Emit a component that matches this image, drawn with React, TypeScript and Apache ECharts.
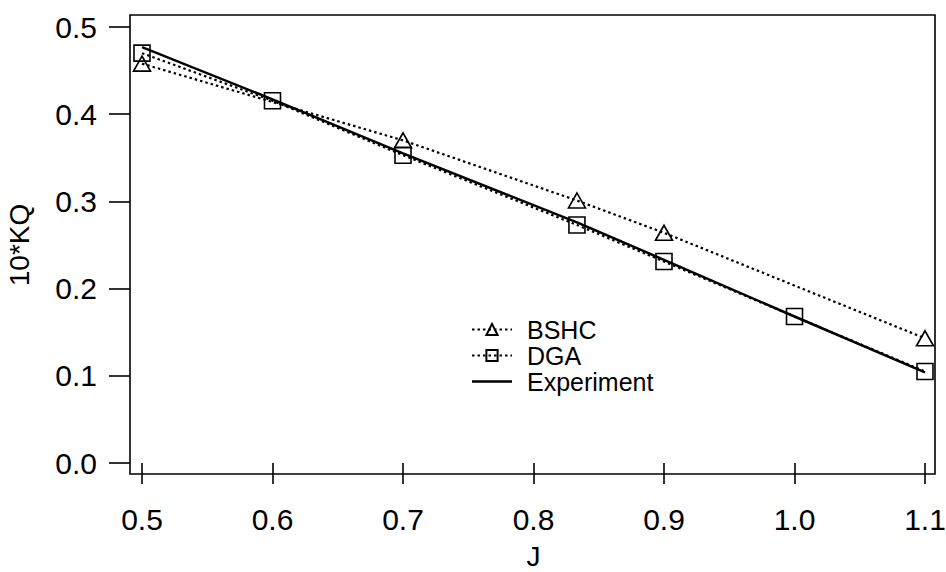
import React, { useEffect, useRef } from "react";
import * as echarts from "echarts";

const J_VALUES = [0.5, 0.6, 0.7, 0.8333, 0.9, 1.0, 1.1];
const DGA = [0.47, 0.4155, 0.353, 0.273, 0.231, 0.168, 0.105];
const EXPERIMENT = [0.477, 0.417, 0.355, 0.276, 0.233, 0.168, 0.104];
const J_BSHC = [0.5, 0.7, 0.8333, 0.9, 1.1];
const BSHC = [0.458, 0.37, 0.301, 0.264, 0.143];

const FONT = "'Liberation Sans', Arial, Helvetica, sans-serif";

export default function App() {
  const ref = useRef<HTMLDivElement>(null);
  useEffect(() => {
    if (!ref.current) return;
    const chart = echarts.init(ref.current, null, { renderer: "svg" });
    const pair = (xs: number[], ys: number[]) => xs.map((x, i) => [x, ys[i]]);
    const markerStyle = {
      color: "rgba(255,255,255,0)",
      borderColor: "#000",
      borderWidth: 1.6,
    };
    chart.setOption({
      animation: false,
      backgroundColor: "#fff",
      textStyle: { fontFamily: FONT, color: "#000" },
      grid: [
        { left: 142, right: 21, top: 27, bottom: 109, outerBoundsMode: "none", containLabel: false },
        {
          left: 130,
          right: 11,
          top: 15,
          bottom: 98,
          show: true,
          borderColor: "#000",
          borderWidth: 1.6,
          backgroundColor: "rgba(0,0,0,0)",
          outerBoundsMode: "none",
          containLabel: false,
        },
      ],
      xAxis: [
        {
          type: "value",
          gridIndex: 0,
          min: 0.5,
          max: 1.1,
          interval: 0.1,
          offset: 11,
          axisLine: { show: false },
          axisTick: { show: true, length: 21, inside: false, lineStyle: { color: "#000", width: 1.6 } },
          splitLine: { show: false },
          axisLabel: {
            margin: 30,
            fontSize: 30,
            fontFamily: FONT,
            color: "#000",
            formatter: (v: number) => v.toFixed(1),
          },
          name: "J",
          nameLocation: "middle",
          nameGap: 68,
          nameTextStyle: { fontSize: 28, fontFamily: FONT, color: "#000" },
        },
        { type: "value", gridIndex: 1, show: false, min: 0, max: 1 },
      ],
      yAxis: [
        {
          type: "value",
          gridIndex: 0,
          min: 0,
          max: 0.5,
          interval: 0.1,
          offset: 12,
          axisLine: { show: false },
          axisTick: { show: true, length: 21, inside: false, lineStyle: { color: "#000", width: 1.6 } },
          splitLine: { show: false },
          axisLabel: {
            margin: 33,
            fontSize: 30,
            fontFamily: FONT,
            color: "#000",
            formatter: (v: number) => v.toFixed(1),
          },
          name: "10*KQ",
          nameLocation: "middle",
          nameRotate: 90,
          nameGap: 97,
          nameTextStyle: { fontSize: 28, fontFamily: FONT, color: "#000" },
        },
        { type: "value", gridIndex: 1, show: false, min: 0, max: 1 },
      ],
      legend: {
        orient: "vertical",
        left: 466,
        top: 312,
        itemWidth: 40,
        itemHeight: 14,
        itemGap: 1,
        textStyle: { fontSize: 25, fontFamily: FONT, color: "#000", padding: [0, 0, 0, 10], lineHeight: 24 },
        data: [
          "BSHC",
          "DGA",
          { name: "Experiment", icon: "path://M0,0 L40,0 L40,2.4 L0,2.4 Z" },
        ],
      },
      series: [
        {
          name: "BSHC",
          type: "line",
          xAxisIndex: 0,
          yAxisIndex: 0,
          data: pair(J_BSHC, BSHC),
          symbol: "triangle",
          symbolSize: [17, 15],
          showAllSymbol: true,
          itemStyle: markerStyle,
          lineStyle: { color: "#000", width: 2.2, type: [2.5, 3] },
          z: 3,
        },
        {
          name: "DGA",
          type: "line",
          xAxisIndex: 0,
          yAxisIndex: 0,
          data: pair(J_VALUES, DGA),
          symbol: "rect",
          symbolSize: 16,
          showAllSymbol: true,
          itemStyle: markerStyle,
          lineStyle: { color: "#000", width: 2.2, type: [2.5, 3] },
          z: 3,
        },
        {
          name: "Experiment",
          type: "line",
          xAxisIndex: 0,
          yAxisIndex: 0,
          data: pair(J_VALUES, EXPERIMENT),
          symbol: "none",
          itemStyle: { color: "#000" },
          lineStyle: { color: "#000", width: 2.5, type: "solid" },
          z: 4,
        },
      ],
    });
    return () => chart.dispose();
  }, []);
  return <div ref={ref} style={{ width: 946, height: 572, position: "absolute", left: 0, top: 0 }} />;
}
